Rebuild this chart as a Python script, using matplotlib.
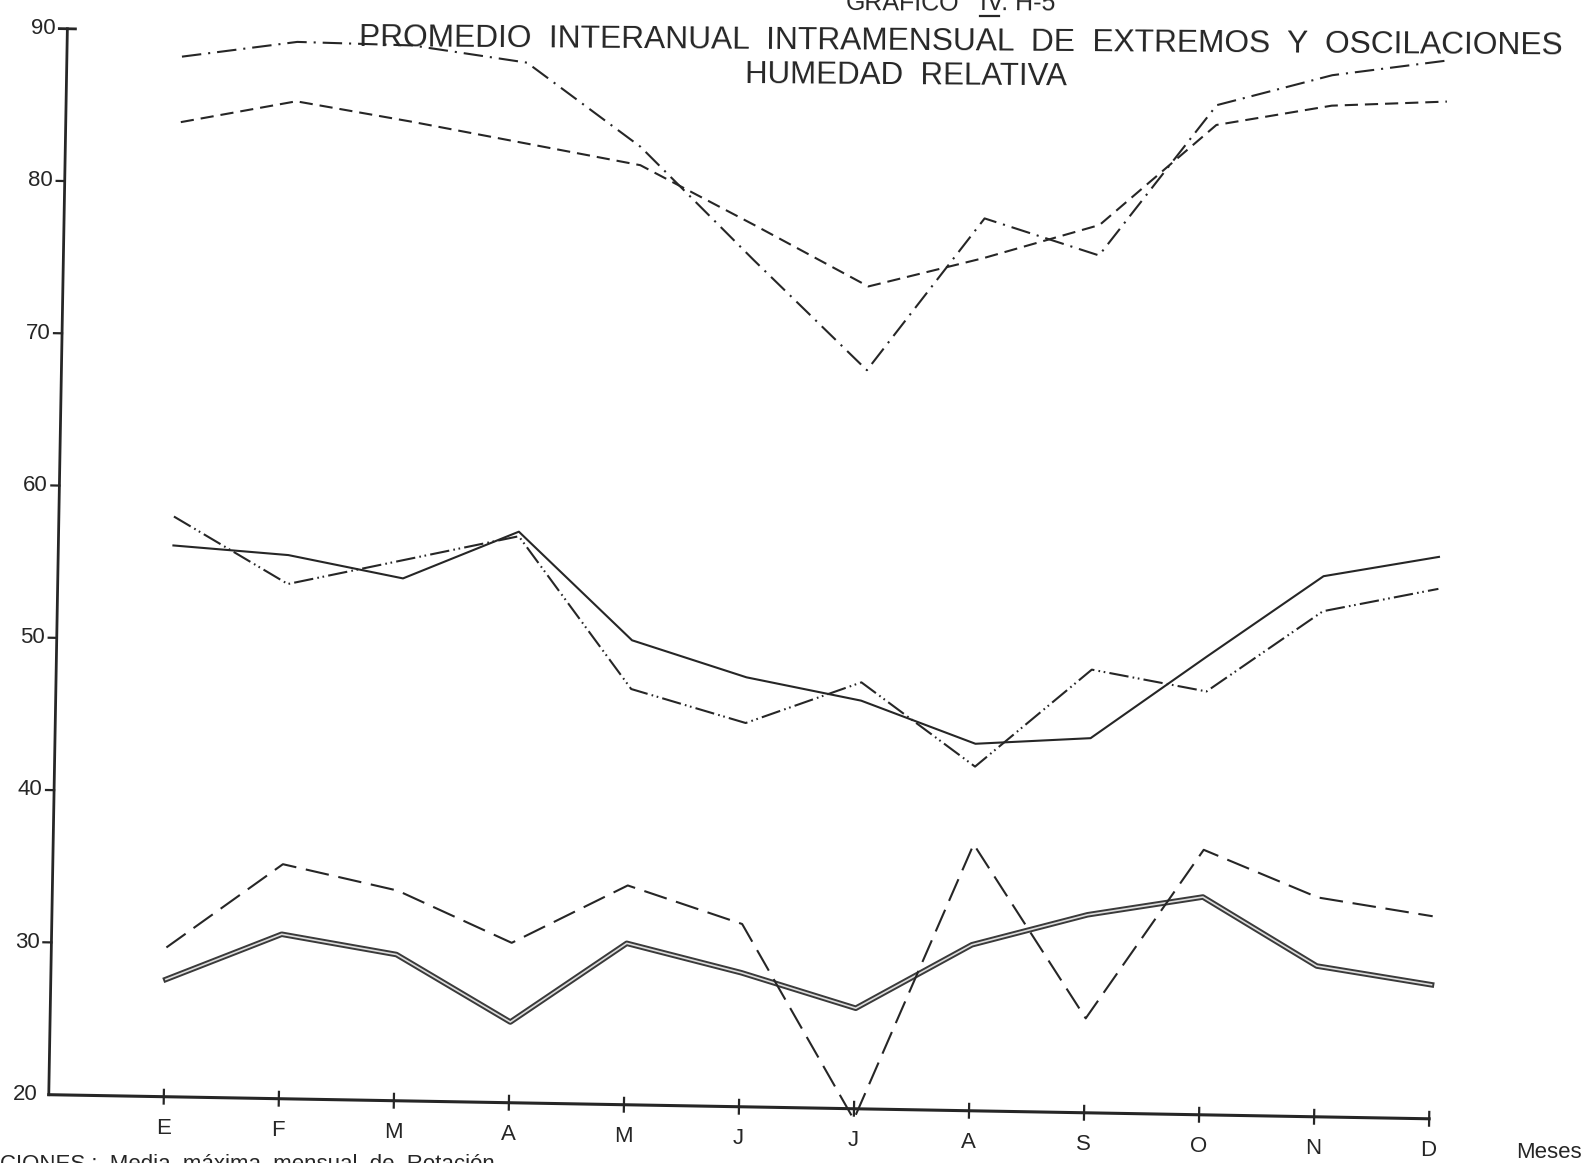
import matplotlib
matplotlib.use("Agg")
import matplotlib.pyplot as plt
from matplotlib.lines import Line2D
from matplotlib.transforms import Affine2D

plt.rcParams["lines.scale_dashes"] = False
SANS = ["Liberation Sans", "DejaVu Sans"]
INK = "#262626"

# ---- datos: humedad relativa (%) por mes ----
meses = ["E", "F", "M", "A", "M", "J", "J", "A", "S", "O", "N", "D"]
ticks_hr = [20, 30, 40, 50, 60, 70, 80, 90]

maxima_extrema = [88.3, 89.4, 89.3, 88.3, 82.9, 75.6, 68.5, 78.6, 76.3, 86.3, 88.4, 89.5]
maxima_media = [84.0, 85.5, 84.3, 83.0, 81.7, 77.9, 74.0, 76.0, 78.3, 85.0, 86.4, 86.8]
minima_media = [56.2, 55.7, 54.3, 57.5, 50.5, 48.2, 46.8, 44.1, 44.6, 50.1, 55.5, 56.9]
minima_extrema = [58.1, 53.8, 55.5, 57.2, 47.3, 45.2, 48.0, 42.6, 49.1, 47.8, 53.2, 54.8]
oscilacion_media = [27.7, 30.8, 29.6, 25.3, 30.6, 28.8, 26.6, 30.9, 33.0, 34.3, 29.9, 28.8]
oscilacion_extrema = [29.8, 35.4, 33.8, 30.5, 34.4, 32.0, 19.3, 37.5, 26.2, 37.4, 34.4, 33.3]

# ---- geometria de la lamina (pixeles, origen arriba-izquierda) ----
W, H = 1585, 1163
X0, Y0 = 163.8, 1096.7      # punto (E, 20 %)
DX, DY = 115.05, 15.23      # px por mes / px por 1 %
TILT = -1.0                 # la hoja esta algo girada

fig = plt.figure(figsize=(W / 100, H / 100), dpi=100)
fig.patch.set_facecolor("white")

x_lo, x_hi = -1.4, 12.4
y_lo, y_hi = 18, 92
left = X0 + DX * x_lo
right = X0 + DX * x_hi
top_px = Y0 - DY * (y_hi - 20)
bot_px = Y0 - DY * (y_lo - 20)
ax = fig.add_axes([left / W, (H - bot_px) / H, (right - left) / W, (bot_px - top_px) / H])
ax.set_xlim(x_lo, x_hi)
ax.set_ylim(y_lo, y_hi)
ax.axis("off")

T = ax.transData + Affine2D().rotate_deg_around(X0, H - Y0, TILT)


def draw(xs, ys, **kw):
    kw.setdefault("color", INK)
    kw.setdefault("lw", 1.5)
    return ax.plot(xs, ys, transform=T, clip_on=False, **kw)


# ejes
draw([-1, -1], [20, 90], lw=2.0)
draw([-1, 11], [20, 20], lw=2.2)
draw([-1.07, -0.93], [90, 90], lw=2.0)
for v in ticks_hr[1:-1]:
    draw([-1.07, -1], [v, v], lw=1.6)
for v in ticks_hr:
    ax.text(-1.1, v, str(v), transform=T, ha="right", va="center",
            fontsize=16, family=SANS, color=INK)
for i, m in enumerate(meses):
    draw([i, i], [19.55, 20.45], lw=1.6)
    ax.text(i, 17.9, m, transform=T, ha="center", va="center",
            fontsize=16, family=SANS, color=INK)
ax.text(12.05, 17.9, "Meses", transform=T, ha="center", va="center",
        fontsize=16, family=SANS, color=INK)

x = list(range(12))
draw(x, maxima_extrema, dashes=(14, 5, 1.5, 5))
draw(x, maxima_media, dashes=(9.5, 5))
draw(x, minima_media)
draw(x, minima_extrema, dashes=(14, 3, 1.2, 2.6, 1.2, 3))
draw(x, oscilacion_media, lw=4.0, color="#3a3a3a")
draw(x, oscilacion_media, lw=1.2, color="#dcdcdc")
draw(x, oscilacion_extrema, dashes=(17, 7))

# titulos
fig.text(903 / W, 1 - 3 / H, "GRAFICO", ha="center", va="center",
         fontsize=18, family=SANS, color=INK, rotation=-0.4)
num = fig.text(1018 / W, 1 - 3 / H, "IV. H-5", ha="center", va="center",
               fontsize=18, family=SANS, color=INK, rotation=-0.4)
fig.canvas.draw()
bb = num.get_window_extent()
fig.add_artist(Line2D([bb.x0 / W, (bb.x0 + 0.25 * bb.width) / W],
                      [(bb.y0 - 1) / H, (bb.y0 - 1) / H], color=INK, lw=1.6))

fig.text(961 / W, 1 - 42.5 / H,
         "PROMEDIO  INTERANUAL  INTRAMENSUAL  DE  EXTREMOS  Y  OSCILACIONES",
         ha="center", va="center", fontsize=22.8, family=SANS, color=INK,
         rotation=-0.4)
fig.text(905.6 / W, 1 - 75.8 / H, "HUMEDAD  RELATIVA", ha="center", va="center",
         fontsize=22.5, family=SANS, color=INK, rotation=-0.4)
fig.text(0.0, 1 - 1165 / H, "CIONES :  Media  máxima  mensual  de  Rotación",
         ha="left", va="center", fontsize=16, family=SANS, color=INK)

fig.savefig("out.png", dpi=100, facecolor="white")
